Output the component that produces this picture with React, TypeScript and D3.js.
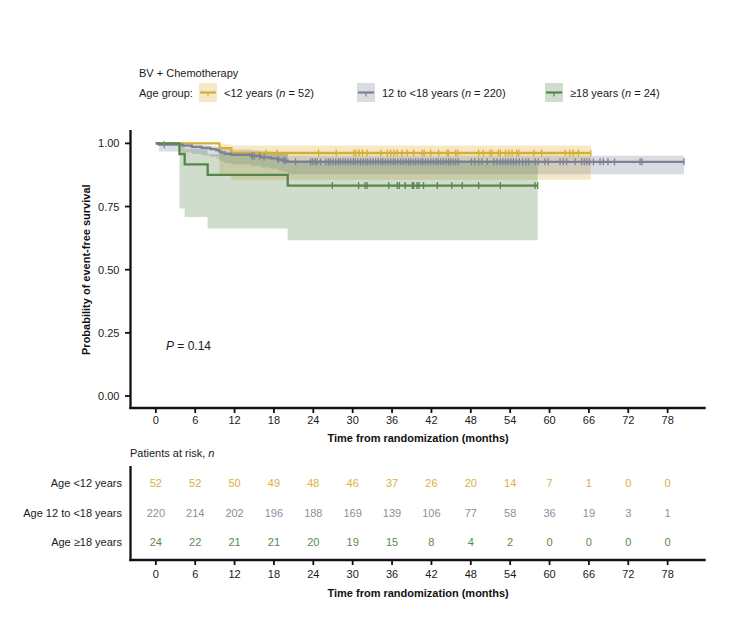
import React from "react";
import * as d3 from "d3";

// ---------- data ----------
const groupLabels = ["<12 years", "12 to <18 years", "≥18 years"];
const groupN = [52, 220, 24];
const rowLabels = ["Age <12 years", "Age 12 to <18 years", "Age ≥18 years"];

// <12 years
const youngTimes = [0, 9.7, 11.5];
const youngSurv = [1, 0.981, 0.962];
const youngLower = [1, 0.872, 0.856];
const youngUpper = [1, 0.997, 0.992];
const youngEnd = 66.3;
const youngCensor = [16.8, 18.5, 24.8, 27.5, 30.2, 30.5, 31.0, 31.5, 32.2, 34.3, 35.3, 35.8, 36.3, 36.8, 37.5, 38.3, 39.3, 40.6, 40.9, 41.9, 43.1, 44.4, 44.6, 45.7, 46.0, 49.2, 49.9, 50.9, 51.2, 52.2, 52.5, 53.3, 53.8, 54.3, 55.0, 55.3, 57.6, 58.8, 62.4, 63.1, 63.6, 64.4, 66.3];

// 12 to <18 years
const midTimes = [0, 0.5, 4.1, 5.5, 7.0, 8.3, 9.2, 9.6, 9.9, 10.5, 11.5, 14.5, 16.0, 17.5, 18.5, 19.3, 20.1];
const midSurv = [1, 0.995, 0.991, 0.986, 0.982, 0.977, 0.973, 0.968, 0.964, 0.959, 0.955, 0.95, 0.945, 0.941, 0.936, 0.932, 0.927];
const midLower = [1, 0.968, 0.964, 0.958, 0.952, 0.946, 0.94, 0.934, 0.928, 0.922, 0.917, 0.911, 0.905, 0.9, 0.894, 0.888, 0.878];
const midUpper = [1, 0.999, 0.998, 0.995, 0.993, 0.99, 0.987, 0.984, 0.982, 0.978, 0.976, 0.973, 0.969, 0.965, 0.962, 0.959, 0.951];
const midEnd = 80.5;
const midCensor = [1.3, 14.7, 15.0, 15.8, 16.5, 18.7, 19.5, 19.8, 21.3, 23.6, 23.9, 24.3, 24.6, 25.1,
  25.9, 26.3, 26.6, 27.0, 27.4, 27.8, 28.1, 28.5, 28.9, 29.3, 29.7, 30.1, 30.4, 30.8, 31.2, 31.6, 32.0, 32.3, 32.7, 33.1, 33.5, 33.9, 34.3, 34.6, 35.0, 35.4, 35.8, 36.2, 36.5, 36.9, 37.3, 37.7, 38.1, 38.5, 38.8, 39.2, 39.6, 40.0, 40.4, 40.7, 41.1, 41.5, 41.9, 42.3, 42.7, 43.0, 43.4, 43.8, 44.2, 44.6, 44.9, 45.3, 45.7, 46.1,
  48.1, 48.6, 49.2, 49.7, 50.5, 51.5, 52.0, 52.5, 52.9, 53.3, 53.7, 54.1, 54.5, 54.9, 55.4, 55.9, 56.4, 56.8, 57.8, 58.3, 59.3, 59.8, 61.6, 62.1, 62.6, 63.9, 64.9, 65.3, 65.7, 66.1, 66.7, 67.7, 68.2, 68.9, 69.9, 73.8, 74.1, 80.5];

// >=18 years
const oldTimes = [0, 3.6, 4.4, 7.9, 20.1];
const oldSurv = [1, 0.958, 0.917, 0.875, 0.833];
const oldLower = [1, 0.742, 0.709, 0.663, 0.617];
const oldUpper = [1, 0.994, 0.979, 0.958, 0.934];
const oldEnd = 58.2;
const oldCensor = [26.9, 30.9, 31.9, 32.2, 35.5, 36.8, 37.1, 38.0, 39.1, 39.3, 39.8, 40.1, 40.8, 42.9, 45.1, 46.7, 49.2, 52.5, 57.8, 58.2];

const xTicks = [0, 6, 12, 18, 24, 30, 36, 42, 48, 54, 60, 66, 72, 78];
const yTicks = [0, 0.25, 0.5, 0.75, 1];
const riskYoung = [52, 52, 50, 49, 48, 46, 37, 26, 20, 14, 7, 1, 0, 0];
const riskMid = [220, 214, 202, 196, 188, 169, 139, 106, 77, 58, 36, 19, 3, 1];
const riskOld = [24, 22, 21, 21, 20, 19, 15, 8, 4, 2, 0, 0, 0, 0];

const lineColors = ["#d6ae34", "#7b8196", "#55864b"];
const textColors = ["#d9b23e", "#8a8ea2", "#5a8b50"];
const bandOpacity = 0.28;

const FONT = "'Liberation Sans', Arial, Helvetica, sans-serif";

type Series = { times: number[]; surv: number[]; lower: number[]; upper: number[]; end: number; censor: number[] };
const series: Series[] = [
  { times: youngTimes, surv: youngSurv, lower: youngLower, upper: youngUpper, end: youngEnd, censor: youngCensor },
  { times: midTimes, surv: midSurv, lower: midLower, upper: midUpper, end: midEnd, censor: midCensor },
  { times: oldTimes, surv: oldSurv, lower: oldLower, upper: oldUpper, end: oldEnd, censor: oldCensor },
];
const riskRows = [riskYoung, riskMid, riskOld];

export default function App() {
  const x = d3.scaleLinear().domain([-3.86, 83.8]).range([130.5, 705.7]);
  const y = d3.scaleLinear().domain([-0.0475, 1.053]).range([408, 130]);
  const rowY = d3.scalePoint<string>().domain(rowLabels).range([483, 542]);

  const pts = (s: Series) => {
    const p = s.times.map((t, i) => ({ t, s: s.surv[i], lo: s.lower[i], hi: s.upper[i] }));
    const last = p[p.length - 1];
    p.push({ t: s.end, s: last.s, lo: last.lo, hi: last.hi });
    return p;
  };
  const line = d3.line<any>().x((d) => x(d.t)).y((d) => y(d.s)).curve(d3.curveStepAfter);
  const area = d3.area<any>().x((d) => x(d.t)).y0((d) => y(d.lo)).y1((d) => y(d.hi)).curve(d3.curveStepAfter);
  const survAt = (s: Series, t: number) => s.surv[Math.max(0, d3.bisectRight(s.times, t) - 1)];

  const plotLeft = 130.5, plotRight = 705.7, plotBottom = 408, plotTop = 130;
  const tblTop = 466, tblBottom = 560;
  const legendX = [199, 357, 545];

  return (
    <svg width={756} height={636} style={{ position: "absolute", left: 0, top: 0, background: "#fff" }} fontFamily={FONT}>
      {/* legend */}
      <text x={139} y={76.5} fontSize={11} fill="#1a1a1a">BV + Chemotherapy</text>
      <text x={139} y={96.5} fontSize={11} fill="#1a1a1a">Age group:</text>
      {groupLabels.map((g, i) => (
        <g key={g}>
          <rect x={legendX[i]} y={83} width={18} height={19} fill={lineColors[i]} fillOpacity={bandOpacity} />
          <line x1={legendX[i] + 1} x2={legendX[i] + 17} y1={92.5} y2={92.5} stroke={lineColors[i]} strokeWidth={2.2} />
          <line x1={legendX[i] + 9} x2={legendX[i] + 9} y1={92.5} y2={96.5} stroke={lineColors[i]} strokeWidth={1.2} />
          <text x={legendX[i] + 25} y={96.5} fontSize={11} fill="#1a1a1a">
            {g} (<tspan fontStyle="italic">n</tspan> = {groupN[i]})
          </text>
        </g>
      ))}

      {/* bands */}
      {series.map((s, i) => (
        <path key={"b" + i} d={area(pts(s)) || ""} fill={lineColors[i]} fillOpacity={bandOpacity} stroke="none" />
      ))}
      {/* lines */}
      {[0, 1, 2].map((i) => (
        <path key={"l" + i} d={line(pts(series[i])) || ""} fill="none" stroke={lineColors[i]} strokeWidth={2.3} />
      ))}
      {/* censor marks */}
      {series.map((s, i) => (
        <g key={"c" + i} stroke={lineColors[i]} strokeWidth={1.3}>
          {s.censor.map((t, j) => (
            <line key={j} x1={x(t)} x2={x(t)} y1={y(survAt(s, t)) - 3.5} y2={y(survAt(s, t)) + 3.5} />
          ))}
        </g>
      ))}

      {/* axes of survival plot */}
      <g stroke="#111" strokeWidth={2.3}>
        <line x1={plotLeft} x2={plotLeft} y1={plotTop} y2={plotBottom + 1.1} />
        <line x1={plotLeft - 1.1} x2={plotRight} y1={plotBottom} y2={plotBottom} />
      </g>
      {yTicks.map((v) => (
        <g key={"yt" + v}>
          <line x1={plotLeft - 5.5} x2={plotLeft} y1={y(v)} y2={y(v)} stroke="#111" strokeWidth={1.8} />
          <text x={119.5} y={y(v) + 4} fontSize={11} textAnchor="end" fill="#1a1a1a">{d3.format(".2f")(v)}</text>
        </g>
      ))}
      {xTicks.map((v) => (
        <g key={"xt" + v}>
          <line x1={x(v)} x2={x(v)} y1={plotBottom} y2={plotBottom + 5} stroke="#111" strokeWidth={1.8} />
          <text x={x(v)} y={423.5} fontSize={11} textAnchor="middle" fill="#1a1a1a">{v}</text>
        </g>
      ))}
      <text x={(plotLeft + plotRight) / 2} y={441.5} fontSize={11} fontWeight="bold" textAnchor="middle" fill="#111">Time from randomization (months)</text>
      <text transform={`translate(89.5, ${(y(0) + y(1)) / 2}) rotate(-90)`} fontSize={11} fontWeight="bold" textAnchor="middle" fill="#111">Probability of event-free survival</text>
      <text x={166} y={350} fontSize={12} fill="#1a1a1a"><tspan fontStyle="italic">P</tspan> = 0.14</text>

      {/* risk table */}
      <text x={130} y={456.5} fontSize={11} fill="#1a1a1a">Patients at risk, <tspan fontStyle="italic">n</tspan></text>
      {rowLabels.map((r, i) => (
        <g key={r}>
          <text x={122} y={(rowY(r) as number) + 4} fontSize={11} textAnchor="end" fill="#1a1a1a">{r}</text>
          {riskRows[i].map((n, j) => (
            <text key={j} x={x(xTicks[j])} y={(rowY(r) as number) + 4} fontSize={11} textAnchor="middle" fill={textColors[i]}>{n}</text>
          ))}
        </g>
      ))}
      <g stroke="#111" strokeWidth={2.3}>
        <line x1={plotLeft} x2={plotLeft} y1={tblTop} y2={tblBottom + 1.1} />
        <line x1={plotLeft - 1.1} x2={plotRight} y1={tblBottom} y2={tblBottom} />
      </g>
      {xTicks.map((v) => (
        <g key={"tt" + v}>
          <line x1={x(v)} x2={x(v)} y1={tblBottom} y2={tblBottom + 5} stroke="#111" strokeWidth={1.8} />
          <text x={x(v)} y={578} fontSize={11} textAnchor="middle" fill="#1a1a1a">{v}</text>
        </g>
      ))}
      <text x={(plotLeft + plotRight) / 2} y={597} fontSize={11} fontWeight="bold" textAnchor="middle" fill="#111">Time from randomization (months)</text>
    </svg>
  );
}
